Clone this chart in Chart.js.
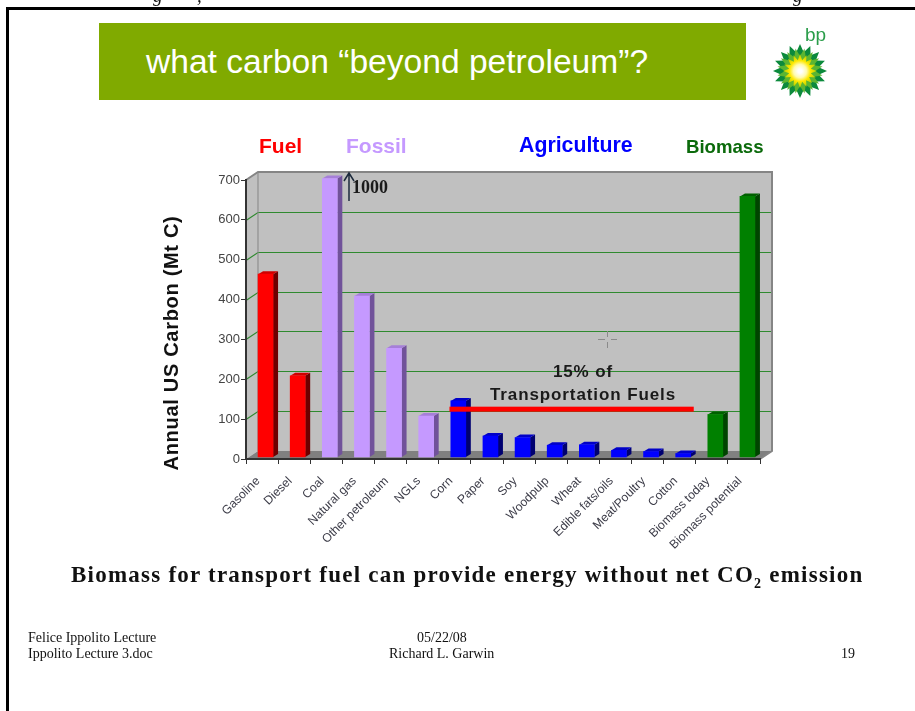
<!DOCTYPE html>
<html>
<head>
<meta charset="utf-8">
<script src="https://cdn.jsdelivr.net/npm/chart.js@4"></script>
<style>
html,body{margin:0;padding:0;background:#fff;width:915px;height:711px;overflow:hidden}
#wrap{position:relative;width:915px;height:711px}
canvas{position:absolute;left:0;top:0}
.t{position:absolute;white-space:nowrap;line-height:1}
.serif{font-family:"Liberation Serif",serif;color:#111}
.grp{font-family:"Liberation Sans",sans-serif;font-weight:bold}
</style>
</head>
<body>
<div id="wrap">
<canvas id="c" width="915" height="711"></canvas>
<div style="position:absolute;left:6px;top:7px;width:909px;height:3px;background:#000"></div>
<div style="position:absolute;left:6px;top:7px;width:3px;height:704px;background:#000"></div>
<div style="position:absolute;left:0;top:0;width:915px;height:7px;overflow:hidden">
  <div class="t serif" style="left:153px;top:-14px;font-size:19px;font-style:italic;">g</div>
  <div class="t serif" style="left:197px;top:-14px;font-size:19px;font-style:italic;">,</div>
  <div class="t serif" style="left:793px;top:-14px;font-size:19px;font-style:italic;">g</div>
</div>
<div style="position:absolute;left:99px;top:23px;width:647px;height:77px;background:#80aa00"></div>
<div class="t" style="left:146px;top:43px;font:33.6px 'Liberation Sans',sans-serif;color:#fff">what carbon “beyond petroleum”?</div>
<div class="t" style="left:805px;top:24px;font:19px 'Liberation Sans',sans-serif;color:#2a9d4a">bp</div>
<div class="t grp" style="left:259px;top:135px;font-size:21px;color:#f00">Fuel</div>
<div class="t grp" style="left:346px;top:135px;font-size:21px;color:#c599ff">Fossil</div>
<div class="t grp" style="left:519px;top:135px;font-size:21.3px;color:#00f">Agriculture</div>
<div class="t grp" style="left:686px;top:138px;font-size:18.6px;color:#0b6a0b">Biomass</div>
<div class="t serif" style="left:71px;top:563px;font-size:23px;font-weight:bold;letter-spacing:1.23px">Biomass for transport fuel can provide energy without net CO<sub style="font-size:14px;line-height:0">2</sub> emission</div>
<div class="t serif" style="left:28px;top:631px;font-size:14px">Felice Ippolito Lecture</div>
<div class="t serif" style="left:28px;top:647px;font-size:14px">Ippolito Lecture 3.doc</div>
<div class="t serif" style="left:417px;top:631px;font-size:14px">05/22/08</div>
<div class="t serif" style="left:389px;top:647px;font-size:14px">Richard L. Garwin</div>
<div class="t serif" style="left:841px;top:647px;font-size:14px">19</div>
</div>
<script>
const categories = ["Gasoline","Diesel","Coal","Natural gas","Other petroleum","NGLs","Corn","Paper","Soy","Woodpulp","Wheat","Edible fats/oils","Meat/Poultry","Cotton","Biomass today","Biomass potential"];
const carbonValues = [460,205,700,405,274,104,142,54,50,31,32,18,15,10,108,655];
const barColors = ["#ff0000","#ff0000","#c599ff","#c599ff","#c599ff","#c599ff","#0000ff","#0000ff","#0000ff","#0000ff","#0000ff","#0000ff","#0000ff","#0000ff","#008000","#008000"];
const sideColors = ["#6e0000","#6e0000","#71529a","#71529a","#71529a","#71529a","#000070","#000070","#000070","#000070","#000070","#000070","#000070","#000070","#004400","#004400"];
const topColors = ["#d00000","#d00000","#a67fd8","#a67fd8","#a67fd8","#a67fd8","#0000c8","#0000c8","#0000c8","#0000c8","#0000c8","#0000c8","#0000c8","#0000c8","#006000","#006000"];
const yTicks = [0,100,200,300,400,500,600,700];
const DX = 12, DY = -8, BAR_SHIFT_X = 3.5, BAR_SHIFT_Y = -1.5, SIDE_X = 5, SIDE_Y = -3;

function poly(ctx, pts, fill, stroke, lw){
  ctx.beginPath();
  pts.forEach((p,i)=> i?ctx.lineTo(p[0],p[1]):ctx.moveTo(p[0],p[1]));
  ctx.closePath();
  if(fill){ctx.fillStyle=fill;ctx.fill();}
  if(stroke){ctx.strokeStyle=stroke;ctx.lineWidth=lw||1;ctx.stroke();}
}

const scene = {
  id:'scene',
  beforeDraw(chart){
    const {ctx, chartArea:a, scales:{y}} = chart;
    ctx.save();
    poly(ctx,[[a.left+DX,a.top+DY],[a.right+DX,a.top+DY],[a.right+DX,a.bottom+DY],[a.left+DX,a.bottom+DY]],'#c0c0c0');
    poly(ctx,[[a.left,a.top],[a.left+DX,a.top+DY],[a.left+DX,a.bottom+DY],[a.left,a.bottom]],'#c0c0c0');
    poly(ctx,[[a.left,a.bottom],[a.left+DX,a.bottom+DY],[a.right+DX,a.bottom+DY],[a.right,a.bottom]],'#808080');
    ctx.strokeStyle='#2f8a2f';ctx.lineWidth=1.2;
    yTicks.slice(1,-1).forEach(v=>{
      const py=Math.round(y.getPixelForValue(v))+.5;
      ctx.beginPath();ctx.moveTo(a.left,py);ctx.lineTo(a.left+DX,py+DY);ctx.lineTo(a.right+DX,py+DY);ctx.stroke();
    });
    ctx.strokeStyle='#858585';ctx.lineWidth=2;
    ctx.beginPath();ctx.moveTo(a.left,a.top);ctx.lineTo(a.left+DX,a.top+DY);ctx.lineTo(a.right+DX,a.top+DY);ctx.lineTo(a.right+DX,a.bottom+DY);ctx.lineTo(a.right,a.bottom);ctx.stroke();
    ctx.lineWidth=1;ctx.beginPath();ctx.moveTo(a.left+DX,a.top+DY);ctx.lineTo(a.left+DX,a.bottom+DY);ctx.stroke();
    ctx.restore();
  },
  beforeDatasetsDraw(chart){
    const {ctx} = chart;
    ctx.save();
    ctx.translate(BAR_SHIFT_X,BAR_SHIFT_Y);
    chart.getDatasetMeta(0).data.forEach((b,i)=>{
      const l=b.x-b.width/2, r=b.x+b.width/2;
      poly(ctx,[[r,b.y],[r+SIDE_X,b.y+SIDE_Y],[r+SIDE_X,b.base+SIDE_Y],[r,b.base]],sideColors[i]);
      poly(ctx,[[l,b.y],[l+SIDE_X,b.y+SIDE_Y],[r+SIDE_X,b.y+SIDE_Y],[r,b.y]],topColors[i]);
    });
  },
  afterDatasetsDraw(chart){
    const {ctx, scales:{x,y}} = chart;
    ctx.restore();
    ctx.save();
    // 15% line
    const half = (x.getPixelForValue(1)-x.getPixelForValue(0))/2;
    const ly = y.getPixelForValue(125);
    ctx.fillStyle='#ff0000';
    ctx.fillRect(x.getPixelForValue(categories.indexOf('Corn'))-half/3, ly-2.5, x.getPixelForValue(categories.indexOf('Cotton'))+half-x.getPixelForValue(categories.indexOf('Corn'))+half/3-2, 5);
    ctx.fillStyle='#1a1a1a';
    ctx.textAlign='center';ctx.textBaseline='middle';
    ctx.font='bold 17px "Liberation Sans",sans-serif';
    ctx.letterSpacing='0.9px';
    ctx.fillText('15% of',583,372.5);
    ctx.fillText('Transportation Fuels',583,395);
    ctx.letterSpacing='0px';
    // 1000 arrow
    ctx.strokeStyle='#1c2a3c';ctx.lineWidth=1.5;
    ctx.beginPath();ctx.moveTo(349,201);ctx.lineTo(349,174);ctx.moveTo(344,181);ctx.lineTo(349,173);ctx.lineTo(354,181);ctx.stroke();
    ctx.fillStyle='#1a1a1a';ctx.textAlign='left';
    ctx.font='bold 18px "Liberation Serif",serif';
    ctx.fillText('1000',352,188);
    // cursor
    ctx.strokeStyle='#8a8a8a';ctx.lineWidth=1;
    ctx.beginPath();
    ctx.moveTo(598,339.5);ctx.lineTo(605,339.5);ctx.moveTo(611,339.5);ctx.lineTo(617,339.5);
    ctx.moveTo(607.5,331);ctx.lineTo(607.5,337);ctx.moveTo(607.5,342);ctx.lineTo(607.5,348);ctx.stroke();
    // y title
    ctx.translate(172,343);ctx.rotate(-Math.PI/2);
    ctx.fillStyle='#111';ctx.textAlign='center';
    ctx.font='bold 20px "Liberation Sans",sans-serif';
    ctx.letterSpacing='0.7px';
    ctx.fillText('Annual US Carbon (Mt C)',0,0);
    ctx.letterSpacing='0px';
    ctx.restore();
    // logo
    ctx.save();
    ctx.translate(800,71);
    const n=16;
    const star=(ro,ri,fill,phase)=>{
      ctx.beginPath();
      for(let i=0;i<n*2;i++){
        const r=i%2?ri:ro, t=(i+phase)*Math.PI/n-Math.PI/2;
        const px=r*Math.cos(t),py=r*Math.sin(t);
        i?ctx.lineTo(px,py):ctx.moveTo(px,py);
      }
      ctx.closePath();ctx.fillStyle=fill;ctx.fill();
    };
    star(27,19,'#0c8a3c',0);
    star(23,15,'#5cb531',1);
    const g=ctx.createRadialGradient(0,0,2,0,0,15);
    g.addColorStop(0,'#ffffff');g.addColorStop(.35,'#fffbb0');g.addColorStop(.65,'#ffe900');g.addColorStop(1,'#c8d400');
    star(17,11,g,0);
    ctx.restore();
  }
};

new Chart(document.getElementById('c'),{
  type:'bar',
  data:{labels:categories,datasets:[{data:carbonValues,backgroundColor:barColors,barThickness:15,clip:false,borderWidth:0}]},
  options:{
    responsive:false,animation:false,
    layout:{padding:{left:160,right:155,top:180,bottom:0}},
    plugins:{legend:{display:false},tooltip:{enabled:false},title:{display:false}},
    scales:{
      x:{
        afterFit(s){s.height=252;},
        grid:{drawOnChartArea:false,color:'#333',tickLength:5,tickColor:'#333'},
        border:{color:'#333',width:2},
        ticks:{autoSkip:false,maxRotation:45,minRotation:45,padding:10,labelOffset:-4,color:'#3c3c48',font:{family:'"Liberation Sans",sans-serif',size:12.2}}
      },
      y:{
        min:0,max:700,
        afterFit(s){s.width=86;},
        afterBuildTicks(s){s.ticks=yTicks.map(v=>({value:v}));},
        grid:{drawOnChartArea:false,color:'#333',tickLength:5,tickColor:'#333'},
        border:{color:'#333',width:2},
        ticks:{padding:1,color:'#444',font:{family:'"Liberation Sans",sans-serif',size:13}}
      }
    }
  },
  plugins:[scene]
});
</script>
</body>
</html>
